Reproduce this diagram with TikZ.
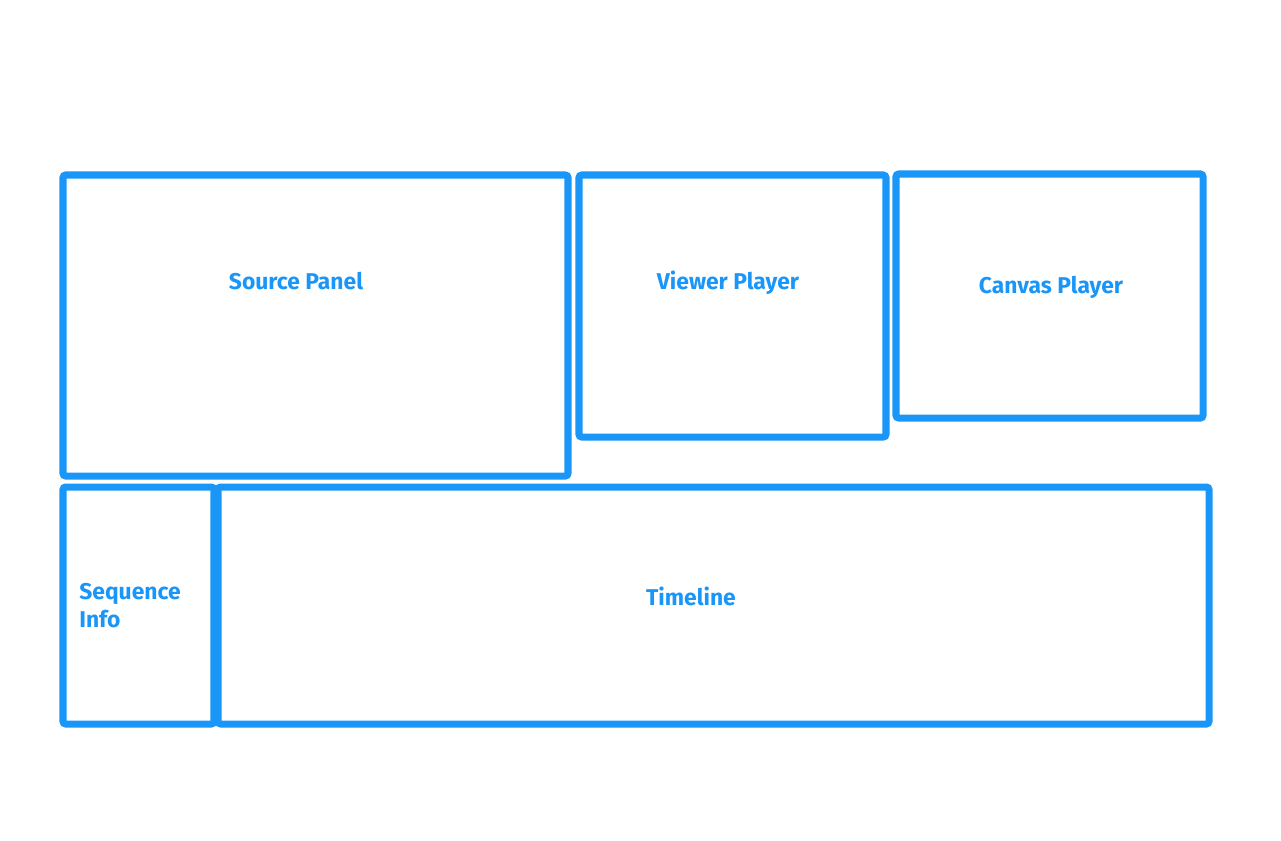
\documentclass[tikz,border=0pt]{standalone}
\usepackage{fontspec}
\setmainfont{Fira Sans}
\definecolor{panelblue}{HTML}{1996F8}
\begin{document}
\begin{tikzpicture}[x=0.02cm,y=-0.02cm,
  panel/.style={draw=panelblue, line width=4pt, rounded corners=1.5pt},
  lbl/.style={text=panelblue, font=\bfseries\fontsize{13}{16}\selectfont, inner sep=0pt}]
\useasboundingbox (0,0) rectangle (1281,840);
% Panels
\draw[panel] (63,175) rectangle (568,476);
\draw[panel] (579,175) rectangle (886,437);
\draw[panel] (896,174) rectangle (1203,418);
\draw[panel] (63,487) rectangle (214,724);
\draw[panel] (218,487) rectangle (1209,724);
% Labels
\node[lbl] (source) at (296,281) {Source Panel};
\node[lbl] (viewer) at (728,283) {Viewer Player};
\node[lbl] (canvas) at (1051,287) {Canvas Player};
\node[lbl, anchor=west, align=left] (seqinfo) at (79,606) {Sequence\\Info};
\node[lbl] (timeline) at (691,596) {Timeline};
\end{tikzpicture}
\end{document}
